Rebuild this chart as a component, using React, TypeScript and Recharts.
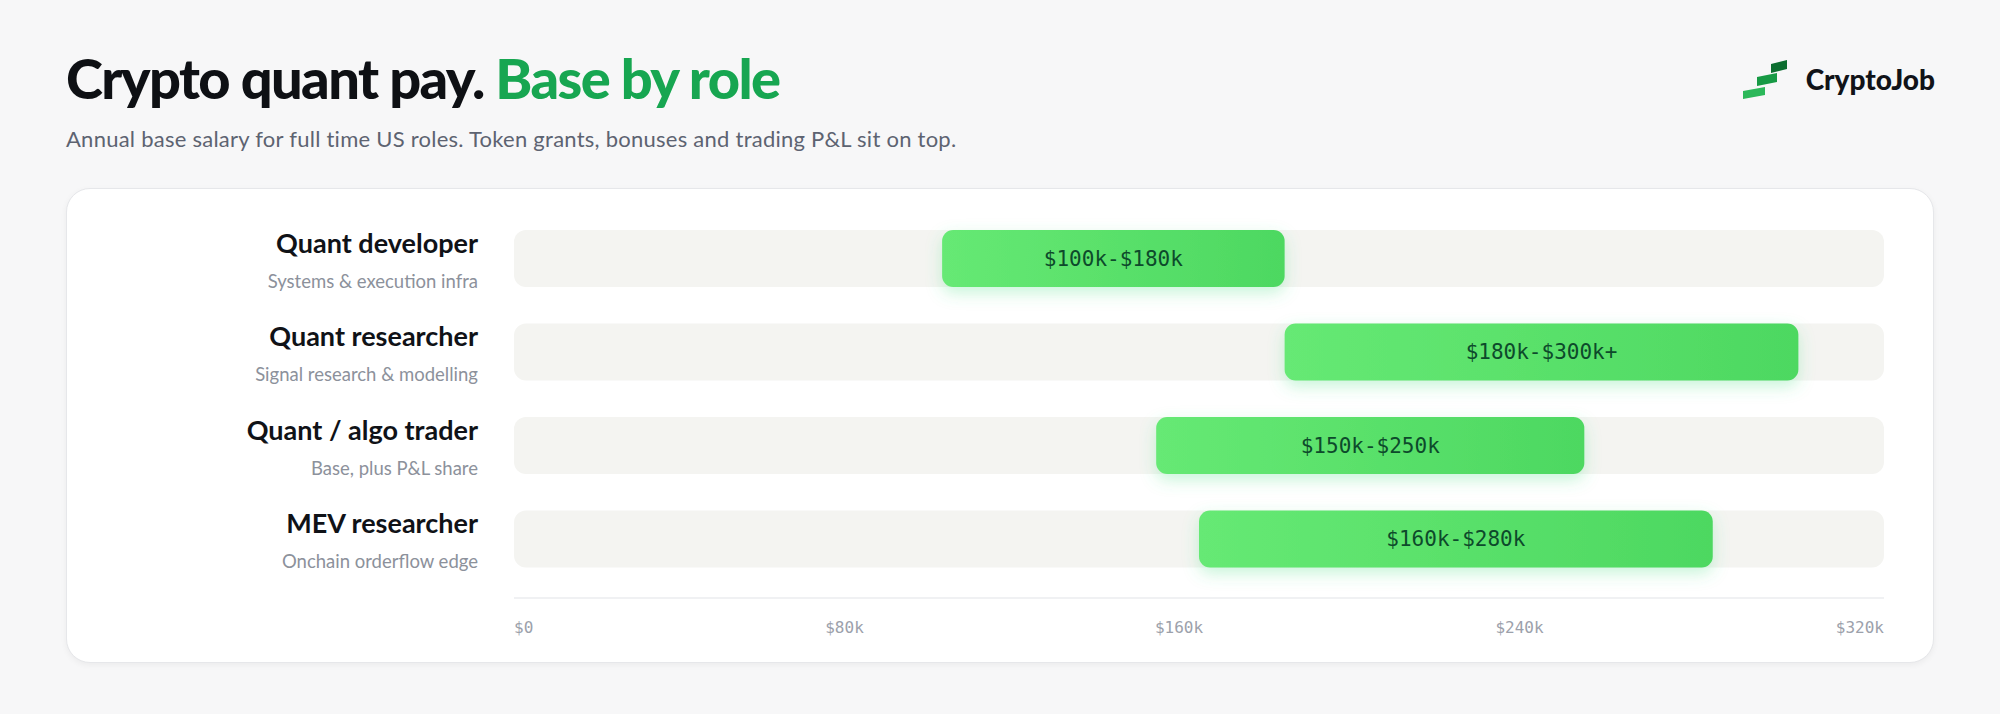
import React from 'react';
import { BarChart, Bar, XAxis, YAxis, LabelList, Rectangle } from 'recharts';

const roles = ['Quant developer', 'Quant researcher', 'Quant / algo trader', 'MEV researcher'];
const notes = ['Systems & execution infra', 'Signal research & modelling', 'Base, plus P&L share', 'Onchain orderflow edge'];
const lows = [100000, 180000, 150000, 160000];
const highs = [180000, 300000, 250000, 280000];
const rangeLabels = ['$100k-$180k', '$180k-$300k+', '$150k-$250k', '$160k-$280k'];
const xTicks = [0, 80000, 160000, 240000, 320000];
const xTickLabels = ['$0', '$80k', '$160k', '$240k', '$320k'];

const data = roles.map((role, i) => ({
  role,
  range: [lows[i], highs[i]],
  label: rangeLabels[i],
}));

const MONO = '"DejaVu Sans Mono", monospace';
const SANS = 'Lato, "Noto Sans", sans-serif';

const RoleTick = ({ x, y, payload, index }: any) => {
  const i = payload?.index ?? index;
  return (
    <g>
      <text x={x - 36} y={y - 6} textAnchor="end" fontFamily={SANS} fontWeight={700} fontSize={27} fill="#101217">
        {payload.value}
      </text>
      <text x={x - 36} y={y + 29} textAnchor="end" fontFamily={SANS} fontSize={18.5} fill="#8c919b">
        {notes[i]}
      </text>
    </g>
  );
};

// labels sit like a justify-between row: ends pinned, middle ones nudged left
const tickShift = [0, -12, -20, -22, 0];

const MoneyTick = ({ x, y, payload }: any) => {
  const i = xTicks.indexOf(payload.value);
  const last = xTicks.length - 1;
  const anchor = i === 0 ? 'start' : i === last ? 'end' : 'middle';
  return (
    <text x={x + tickShift[i]} y={y + 35} textAnchor={anchor} fontFamily={MONO} fontSize={16} fill="#9ca1ab">
      {xTickLabels[i]}
    </text>
  );
};

const RangeShape = (props: any) => {
  const { x, y, width, height } = props;
  return <Rectangle x={x} y={y} width={width} height={height} radius={11} fill="url(#barFill)" filter="url(#barGlow)" />;
};

const RangeLabel = (p: any) => (
  <text
    x={p.x + p.width / 2}
    y={p.y + p.height / 2 + 7}
    textAnchor="middle"
    fontFamily={MONO}
    fontSize={21}
    fontWeight={500}
    fill="#0d4a2b"
  >
    {p.value}
  </text>
);

export default function App() {
  return (
    <div style={{ position: 'absolute', left: 0, top: 0, width: 2000, height: 714, background: '#f7f7f8', overflow: 'hidden' }}>
      <svg width={0} height={0} style={{ position: 'absolute' }}>
        <defs>
          <linearGradient id="barFill" x1="0" y1="0" x2="1" y2="0">
            <stop offset="0%" stopColor="#66e974" />
            <stop offset="100%" stopColor="#4dd861" />
          </linearGradient>
          <filter id="barGlow" x="-20%" y="-60%" width="140%" height="220%">
            <feDropShadow dx="0" dy="6" stdDeviation="8" floodColor="#4ade80" floodOpacity="0.3" />
          </filter>
        </defs>
      </svg>

      <svg width={2000} height={180} style={{ position: 'absolute', left: 0, top: 0 }}>
        <text x={66} y={99} fontFamily={SANS} fontWeight={900} fontSize={56} letterSpacing={-1.6} fill="#0e1014">
          Crypto quant pay. <tspan fill="#17a651">Base by role</tspan>
        </text>
        <text x={66} y={147} fontFamily={SANS} fontSize={22} letterSpacing={0.25} fill="#5d6371">
          Annual base salary for full time US roles. Token grants, bonuses and trading P&amp;L sit on top.
        </text>
        <polygon points="1771,64 1787,60 1787,69 1771,73" fill="#0c6e30" />
        <polygon points="1757,77 1777,73 1777,82 1757,86" fill="#179a45" />
        <polygon points="1743,91 1765,87 1765,95 1743,99" fill="#2cb85a" />
        <text x={1935} y={90} textAnchor="end" fontFamily={SANS} fontWeight={900} fontSize={28} fill="#111318">
          CryptoJob
        </text>
      </svg>

      <div
        style={{
          position: 'absolute',
          left: 66,
          top: 188,
          width: 1866,
          height: 473,
          background: '#ffffff',
          border: '1px solid #e6e7ea',
          borderRadius: 24,
          boxShadow: '0 2px 6px rgba(0,0,0,0.05)',
        }}
      />

      <div style={{ position: 'absolute', left: 66, top: 188 }}>
        <BarChart
          width={1868}
          height={475}
          data={data}
          layout="vertical"
          margin={{ top: 24, right: 50, bottom: 0, left: 0 }}
        >
          <XAxis
            type="number"
            domain={[0, 320000]}
            ticks={xTicks}
            height={65}
            tickLine={false}
            tickSize={0}
            tickMargin={0}
            axisLine={{ stroke: '#ebecef', strokeWidth: 1.5 }}
            tick={<MoneyTick />}
          />
          <YAxis
            type="category"
            dataKey="role"
            width={448}
            axisLine={false}
            tickLine={false}
            tickSize={0}
            tickMargin={0}
            padding={{ top: 0, bottom: 12 }}
            tick={<RoleTick />}
          />
          <Bar
            dataKey="range"
            barSize={57}
            isAnimationActive={false}
            background={{ fill: '#f4f4f1', radius: 12 }}
            shape={<RangeShape />}
          >
            <LabelList dataKey="label" content={<RangeLabel />} />
          </Bar>
        </BarChart>
      </div>
    </div>
  );
}
